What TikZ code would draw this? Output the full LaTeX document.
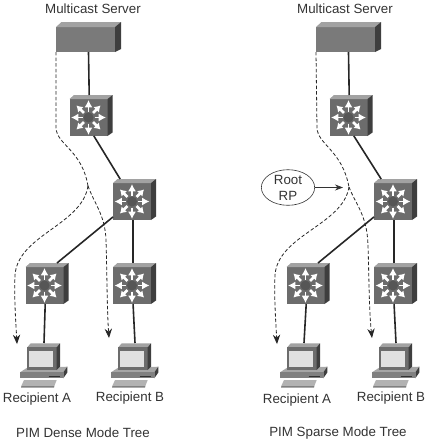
\documentclass[tikz,border=0pt]{standalone}
\usepackage{fontspec}
\setmainfont{Liberation Sans}
\usetikzlibrary{shapes.geometric, arrows.meta}
\definecolor{iconfront}{HTML}{6C6C6C}
\definecolor{icontop}{HTML}{A2A2A2}
\definecolor{iconside}{HTML}{3E3E3E}
\definecolor{inktext}{HTML}{333333}
\tikzset{
	labeltext/.style={font=\fontsize{10}{12}\selectfont, text=inktext, inner sep=0pt},
	iconbox/.style={inner sep=0pt, outer sep=0pt},
	trunk/.style={line width=1.2pt, color=black!85},
	mcastpath/.style={dash pattern=on 2.6pt off 1.6pt, line width=0.6pt, color=black!85},
	mcasttip/.style={-{Stealth[length=7pt, width=5.5pt]}},
}
% Switch with eight white arrows
\newcommand{\switchicon}[2]{
	\node[iconbox, minimum width=32.25pt, minimum height=30.75pt] (#1) at (#2) {};
	\begin{scope}[shift={(#2)}]
		\fill[iconfront] (-21.5,-16.5) rectangle (16.5,20.5);
		\fill[icontop] (-21.5,-16.5) -- (-17,-20.5) -- (21.5,-20.5) -- (16.5,-16.5) -- cycle;
		\fill[iconside] (16.5,-16.5) -- (21.5,-20.5) -- (21.5,17) -- (16.5,20.5) -- cycle;
		\foreach \ang in {0,90,180,270}
			\draw[white, line width=1.4pt, -{Latex[length=5.5pt, width=6pt]}] (-2.5,2) ++(\ang:6) -- ++(\ang:11.5);
		\foreach \ang in {45,135,225,315}
			\draw[white, line width=2pt, -{Latex[length=4.5pt, width=6pt]}] (-2.5,2) ++(\ang:6.5) -- ++(\ang:10.5);
		\fill[iconfront!80!black] (-2.5,2) circle (5);
	\end{scope}
}
% Server box
\newcommand{\servericon}[2]{
	\node[iconbox, minimum width=48.75pt, minimum height=22.5pt] (#1) at (#2) {};
	\begin{scope}[shift={(#2)}]
		\fill[black!52] (-32.5,-10) rectangle (26.5,15);
		\fill[icontop] (-32.5,-10) -- (-27,-15) -- (32.5,-15) -- (26.5,-10) -- cycle;
		\fill[iconside] (26.5,-10) -- (32.5,-15) -- (32.5,12) -- (26.5,15) -- cycle;
	\end{scope}
}
% Desktop computer
\newcommand{\pcicon}[2]{
	\node[iconbox, minimum width=36pt, minimum height=33.75pt] (#1) at (#2) {};
	\begin{scope}[shift={(#2)}]
		\fill[black!35] (-24,6.8) -- (-17.3,2.5) -- (23.3,1.2) -- (19.3,6.8) -- cycle;
		\fill[black!50] (-24,6.8) rectangle (19.3,12.8);
		\fill[iconside] (19.3,6.8) -- (23.3,1.2) -- (23.3,7) -- (19.3,12.8) -- cycle;
		\draw[black!80, line width=0.5pt] (4.5,10.5) -- (16,10.5);
		\fill[icontop] (-16.7,-18.2) -- (-13.3,-22.2) -- (16,-22.2) -- (12.7,-18.2) -- cycle;
		\fill[iconfront] (-16.7,-18.2) rectangle (12.7,4.5);
		\fill[iconside] (12.7,-18.2) -- (16,-22.2) -- (16,1) -- (12.7,4.5) -- cycle;
		\fill[black!12] (-14.7,-14.8) rectangle (9.3,1.2);
		\fill[black!30] (-20,14.5) -- (12.7,14.5) -- (10.5,20) -- (-22.5,20) -- cycle;
		\fill[black!50] (-22.5,20) -- (10.5,20) -- (10,22) -- (-23,22) -- cycle;
	\end{scope}
}
\begin{document}
\begin{tikzpicture}[x=0.75pt, y=-0.75pt]
	\useasboundingbox (0,0) rectangle (429,444);
	% Dense mode icons
	\servericon{serverD}{88.5,37}
	\switchicon{coreD}{91,115.5}
	\switchicon{hubD}{134.5,199.5}
	\switchicon{edgeAD}{47,283.5}
	\switchicon{edgeBD}{134.5,283.5}
	\pcicon{pcAD}{44,365.5}
	\pcicon{pcBD}{135,365.5}
	% Dense mode links
	\draw[trunk] (serverD.south) -- (coreD.95);
	\draw[trunk] (coreD.-82) -- (hubD.125);
	\draw[trunk] (hubD.219) -- (edgeAD.64);
	\draw[trunk] (hubD.-94) -- (edgeBD.94);
	\draw[trunk] (edgeAD.-95) -- (pcAD.north);
	\draw[trunk] (edgeBD.-94) -- (pcBD.north);
	% Dense mode dashed paths
	\coordinate (splitD) at (88,186);
	\coordinate (endAD) at (17,344);
	\coordinate (endBD) at (109,338);
	\draw[mcastpath] (serverD.south west) -- (56,128) .. controls (57,145) and (82,150) .. (splitD);
	\draw[mcastpath, mcasttip] (splitD) .. controls (82,225) and (18,235) .. (15,275) .. controls (14,300) and (16,325) .. (endAD);
	\draw[mcastpath, mcasttip] (splitD) .. controls (95,205) and (105,215) .. (106,240) .. controls (107,270) and (107,310) .. (endBD);
	% Dense mode labels
	\node[labeltext] (titleserverD) at (93,9) {Multicast Server};
	\node[labeltext] (titlepcAD) at (37,399.5) {Recipient A};
	\node[labeltext] (titlepcBD) at (130,398) {Recipient B};
	\node[labeltext] (captionD) at (83,433) {PIM Dense Mode Tree};
	% Sparse mode icons
	\servericon{serverS}{348.5,37}
	\switchicon{coreS}{351,115.5}
	\switchicon{hubS}{395.5,199.5}
	\switchicon{edgeAS}{308,283.5}
	\switchicon{edgeBS}{395.5,283.5}
	\pcicon{pcAS}{304,365.5}
	\pcicon{pcBS}{396,365.5}
	% Sparse mode links
	\draw[trunk] (serverS.south) -- (coreS.95);
	\draw[trunk] (coreS.-82) -- (hubS.125);
	\draw[trunk] (hubS.219) -- (edgeAS.64);
	\draw[trunk] (hubS.-94) -- (edgeBS.94);
	\draw[trunk] (edgeAS.-95) -- (pcAS.north);
	\draw[trunk] (edgeBS.-94) -- (pcBS.north);
	% Sparse mode dashed paths
	\coordinate (splitS) at (349,187);
	\coordinate (endAS) at (277,344);
	\coordinate (endBS) at (372,338);
	\draw[mcastpath] (serverS.south west) -- (317,128) .. controls (318,145) and (342,150) .. (splitS);
	\draw[mcastpath, mcasttip] (splitS) .. controls (343,225) and (278,235) .. (275,275) .. controls (274,300) and (276,325) .. (endAS);
	\draw[mcastpath, mcasttip] (splitS) .. controls (356,205) and (367,215) .. (368,245) .. controls (369,275) and (369,310) .. (endBS);
	% Root RP callout
	\node[labeltext, draw=black!80, line width=0.45pt, ellipse, align=center, minimum width=40pt, minimum height=25pt] (rootrp) at (288,187.5) {Root\\RP};
	\coordinate (rootend) at (343,187.5);
	\draw[line width=0.5pt, color=black!80, -{Stealth[length=6pt, width=4.5pt]}] (rootrp.east) -- (rootend);
	% Sparse mode labels
	\node[labeltext] (titleserverS) at (345,9) {Multicast Server};
	\node[labeltext] (titlepcAS) at (297,400) {Recipient A};
	\node[labeltext] (titlepcBS) at (391,398) {Recipient B};
	\node[labeltext] (captionS) at (338,433) {PIM Sparse Mode Tree};
\end{tikzpicture}
\end{document}
